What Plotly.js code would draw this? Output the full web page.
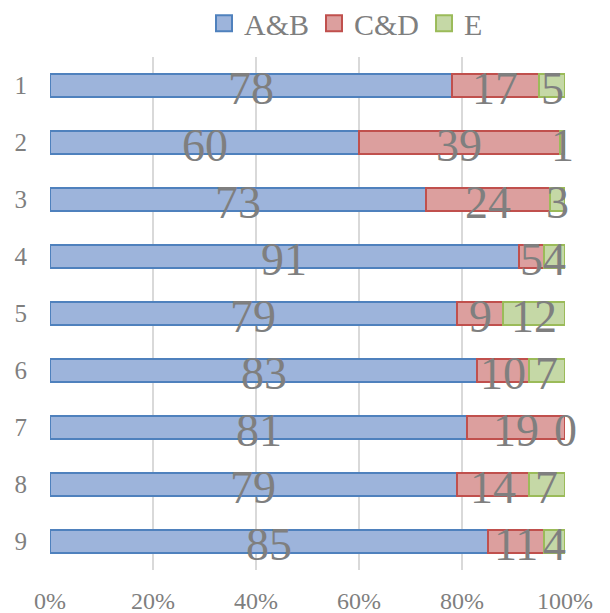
<!DOCTYPE html>
<html>
<head>
<meta charset="utf-8">
<script src="https://cdn.plot.ly/plotly-3.0.1.min.js"></script>
<style>html,body{margin:0;padding:0;background:#fff;}#chart{width:610px;height:613px;}</style>
</head>
<body>
<div id="chart"></div>
<script>
var categories = ["1","2","3","4","5","6","7","8","9"];
var seriesNames = ["A&B","C&D","E"];
var valuesAB = [78,60,73,91,79,83,81,79,85];
var valuesCD = [17,39,24,5,9,10,19,14,11];
var valuesE  = [5,1,3,4,12,7,0,7,4];
var xTickVals = [0,20,40,60,80,100];
var xTickText = ["0%","20%","40%","60%","80%","100%"];

var fills = ["#9db4db","#dc9f9e","#c5d8a6"];
var lines = ["#4f81bd","#c0504d","#9bbb59"];
var seriesValues = [valuesAB, valuesCD, valuesE];
var FONT = "Liberation Serif, Times New Roman, serif";
var GRAY = "#7f7f7f";

var traces = [];
seriesValues.forEach(function(vals, i){
  traces.push({
    type: "bar", orientation: "h", name: seriesNames[i],
    y: categories, x: vals, showlegend: false,
    marker: {color: fills[i],
             line: {color: lines[i], width: vals.map(function(v){ return v === 0 ? 0 : 2; })}},
    hoverinfo: "skip"
  });
});
// legend proxies (no visible data)
seriesValues.forEach(function(vals, i){
  traces.push({
    type: "scatter", mode: "markers", name: seriesNames[i],
    x: [null], y: [categories[0]],
    marker: {symbol: "square", size: 16, color: fills[i], line: {color: lines[i], width: 2}}
  });
});

var annotations = [];
categories.forEach(function(c, k){
  var cum = 0;
  seriesValues.forEach(function(vals){
    var v = vals[k];
    annotations.push({
      x: cum + v/2, y: k, xref: "x", yref: "y",
      text: String(v), showarrow: false, yshift: -3,
      font: {family: FONT, size: 46, color: GRAY}
    });
    cum += v;
  });
});

var layout = {
  width: 610, height: 613,
  margin: {l: 50, r: 45, t: 57, b: 43},
  paper_bgcolor: "#fff", plot_bgcolor: "#fff",
  barmode: "stack", bargap: 0.58,
  showlegend: true,
  legend: {orientation: "h", traceorder: "normal", xref: "container", yref: "container",
           x: 0.8, xanchor: "right", y: 0.962, yanchor: "middle",
           font: {family: FONT, size: 30, color: GRAY},
           itemclick: false, bgcolor: "rgba(0,0,0,0)"},
  xaxis: {range: [0, 100], tickvals: xTickVals, ticktext: xTickText,
          showgrid: true, gridcolor: "#d9d9d9", gridwidth: 1.5,
          zeroline: false, showline: false, ticks: "",
          ticklabelstandoff: 14,
          tickfont: {family: FONT, size: 24, color: GRAY}},
  yaxis: {type: "category", categoryorder: "array", categoryarray: categories,
          range: [categories.length - 0.5, -0.5], autorange: false, showgrid: false,
          zeroline: false, showline: false, ticks: "",
          ticklabelstandoff: 22,
          tickfont: {family: FONT, size: 25, color: GRAY}},
  annotations: annotations
};

Plotly.newPlot("chart", traces, layout, {displayModeBar: false, staticPlot: true});
</script>
</body>
</html>
